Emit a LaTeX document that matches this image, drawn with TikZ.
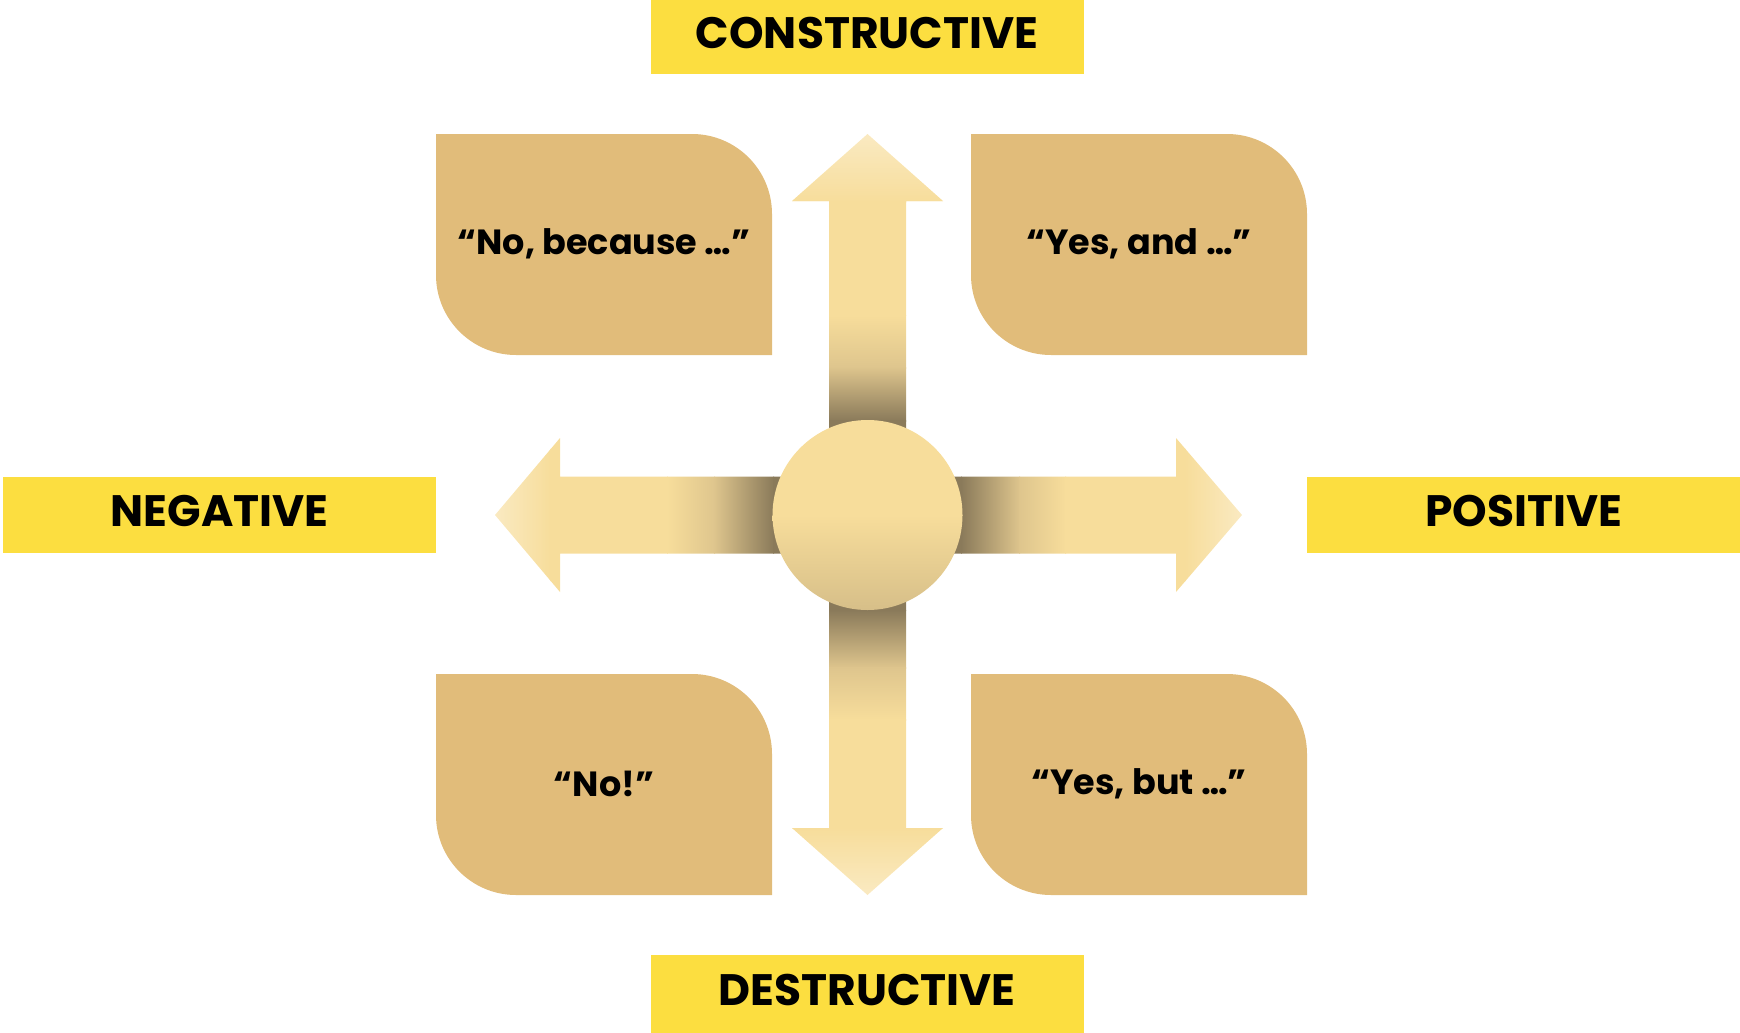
\documentclass[tikz,border=0pt]{standalone}
\usepackage{fontspec}
\setmainfont{Poppins}
\definecolor{labelyellow}{HTML}{FCDE40}
\definecolor{leaffill}{HTML}{E1BC7A}
\definecolor{pale}{HTML}{FAEAC2}
\definecolor{sand}{HTML}{F7DD9B}
\definecolor{mid}{HTML}{DEC58D}
\definecolor{umber}{HTML}{8A7A5A}
\definecolor{hubbase}{HTML}{D6BE88}
\begin{document}
\begin{tikzpicture}[x=1pt,y=-1pt,
  axislabel/.style={fill=labelyellow, inner sep=0pt, minimum width=433pt,
    minimum height=76pt, text height=23pt, text depth=0pt,
    font=\fontsize{44}{48}\selectfont\bfseries},
  leaftext/.style={font=\fontsize{35}{40}\selectfont\bfseries},
  leaf/.pic={
    \fill[leaffill] (-168,-110.5) -- (88,-110.5)
      .. controls (132.2,-110.5) and (168,-74.7) .. (168,-30.5)
      -- (168,110.5) -- (-88,110.5)
      .. controls (-132.2,110.5) and (-168,74.7) .. (-168,30.5) -- cycle;
    \node[leaftext] (-text) at (0,-1) {#1};
  }]
\useasboundingbox (0,0) rectangle (1740,1033);

% axis labels
\node[axislabel, minimum height=74pt] (constructive) at (867,37) {CONSTRUCTIVE};
\node[axislabel, minimum height=78pt] (destructive) at (867,994) {DESTRUCTIVE};
\node[axislabel] (negative) at (219.5,515) {NEGATIVE};
\node[axislabel] (positive) at (1523.5,515) {POSITIVE};

% quadrant answers
\pic (nobecause) at (604,244.5) {leaf={“No, because …”}};
\pic (yesand)    at (1139,244.5) {leaf={“Yes, and …”}};
\pic (no)        at (604,784.5) {leaf={“No!”}};
\pic (yesbut)    at (1139,784.5) {leaf={“Yes, but …”}};

% upward arrow
\begin{scope}
  \clip (829,515) -- (829,201) -- (792,201) -- (867.5,134) -- (943,201)
        -- (906,201) -- (906,515) -- cycle;
  \shade[top color=pale, bottom color=sand] (790,133) rectangle (945,202);
  \fill[sand] (790,201) rectangle (945,316);
  \shade[top color=sand, bottom color=mid] (790,315) rectangle (945,368);
  \shade[top color=mid, bottom color=umber] (790,367) rectangle (945,421);
  \fill[umber] (790,420) rectangle (945,516);
\end{scope}

% downward arrow
\begin{scope}
  \clip (829,515) -- (829,828) -- (792,828) -- (867.5,895) -- (943,828)
        -- (906,828) -- (906,515) -- cycle;
  \fill[umber] (790,514) rectangle (945,611);
  \shade[top color=umber, bottom color=mid] (790,610) rectangle (945,668);
  \shade[top color=mid, bottom color=sand] (790,667) rectangle (945,720);
  \fill[sand] (790,719) rectangle (945,829);
  \shade[top color=sand, bottom color=pale] (790,828) rectangle (945,896);
\end{scope}

% rightward arrow
\begin{scope}
  \clip (867,476.5) -- (1176,476.5) -- (1176,438) -- (1242,515) -- (1176,592)
        -- (1176,553.5) -- (867,553.5) -- cycle;
  \fill[umber] (866,436) rectangle (962,594);
  \shade[left color=umber, right color=mid] (961,436) rectangle (1020,594);
  \shade[left color=mid, right color=sand] (1019,436) rectangle (1066,594);
  \fill[sand] (1065,436) rectangle (1186,594);
  \shade[left color=sand, right color=pale] (1185,436) rectangle (1243,594);
\end{scope}

% leftward arrow
\begin{scope}
  \clip (868,476.5) -- (560,476.5) -- (560,438) -- (495,515) -- (560,592)
        -- (560,553.5) -- (868,553.5) -- cycle;
  \shade[left color=pale, right color=sand] (494,436) rectangle (551,594);
  \fill[sand] (550,436) rectangle (668,594);
  \shade[left color=sand, right color=mid] (667,436) rectangle (715,594);
  \shade[left color=mid, right color=umber] (714,436) rectangle (774,594);
  \fill[umber] (773,436) rectangle (869,594);
\end{scope}

% hub: light upper half, warming towards the bottom
\node[circle, inner sep=0pt, minimum size=190pt] (hub) at (867.5,515) {};
\begin{scope}
  \clip (hub.center) circle[radius=95];
  \fill[sand] (770,418) rectangle (965,516);
  \shade[top color=sand, bottom color=hubbase] (770,515) rectangle (965,612);
\end{scope}
\end{tikzpicture}
\end{document}
